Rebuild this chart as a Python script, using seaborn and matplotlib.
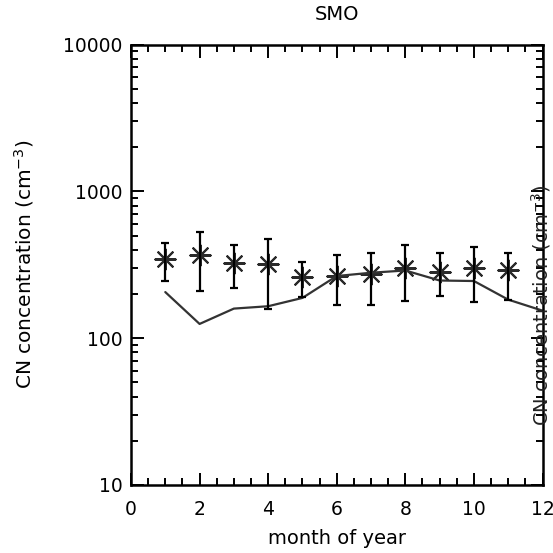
import numpy as np
import pandas as pd
import matplotlib
matplotlib.use("Agg")
import matplotlib.pyplot as plt
import seaborn as sns
from matplotlib.ticker import FixedLocator, MultipleLocator, LogLocator, NullFormatter

# Observed monthly mean CN concentration at SMO with spread (cm^-3)
obs_month = [1, 2, 3, 4, 5, 6, 7, 8, 9, 10, 11]
obs_mean = [344, 368, 326, 318, 262, 265, 274, 302, 283, 299, 289]
obs_high = [447, 530, 431, 472, 331, 367, 378, 431, 378, 418, 382]
obs_low = [247, 209, 218, 157, 190, 169, 169, 178, 193, 176, 183]

# Modelled monthly CN concentration (cm^-3)
model_month = [1, 2, 3, 4, 5, 6, 7, 8, 9, 10, 11, 12]
model_value = [206, 125, 159, 165, 188, 265, 279, 289, 247, 245, 183, 154]

x_ticks = [0, 2, 4, 6, 8, 10, 12]
y_ticks = [10, 100, 1000, 10000]
y_ticklabels = ["10", "100", "1000", "10000"]

sns.set_theme(style="ticks")
plt.rcParams["font.family"] = ["DejaVu Sans"]

fig = plt.figure(figsize=(5.53, 5.53), dpi=100)
ax = fig.add_axes([131 / 553, 1 - 485 / 553, (542.5 - 131) / 553, (485 - 44.5) / 553])

obs = pd.DataFrame({"month": obs_month, "cn": obs_mean,
                    "lo": obs_low, "hi": obs_high})
model = pd.DataFrame({"month": model_month, "cn": model_value})

sns.lineplot(data=model, x="month", y="cn", ax=ax, color="#333333",
             linewidth=1.6, legend=False)

yerr = np.array([obs["cn"] - obs["lo"], obs["hi"] - obs["cn"]])
ax.errorbar(obs["month"], obs["cn"], yerr=yerr, fmt="none", ecolor="black",
            elinewidth=1.6, capsize=3.2, capthick=1.6)
sns.scatterplot(data=obs, x="month", y="cn", ax=ax, marker=(8, 2, 0),
                s=210, color="#2a2a2a", linewidth=1.5, edgecolor="#2a2a2a",
                legend=False)

ax.set_yscale("log")
ax.set_xlim(0, 12)
ax.set_ylim(10, 10000)

ax.xaxis.set_major_locator(FixedLocator(x_ticks))
ax.xaxis.set_minor_locator(MultipleLocator(0.5))
ax.yaxis.set_major_locator(FixedLocator(y_ticks))
ax.set_yticklabels(y_ticklabels)
ax.yaxis.set_minor_locator(LogLocator(base=10, subs=np.arange(2, 10)))
ax.yaxis.set_minor_formatter(NullFormatter())

ax.tick_params(which="both", direction="in", top=True, right=True,
               color="black", width=1.4, labelsize=13.5, labelcolor="black")
ax.tick_params(which="major", length=9)
ax.tick_params(axis="x", which="major", pad=11)
ax.tick_params(axis="y", which="major", pad=6)
ax.tick_params(which="minor", length=5)

for sp in ax.spines.values():
    sp.set_visible(True)
    sp.set_linewidth(1.8)
    sp.set_color("black")

ax.set_xlabel("month of year", fontsize=14, color="black", labelpad=7)
ax.set_ylabel("CN concentration (cm$^{-3}$)", fontsize=14.5, color="black",
              labelpad=20)
ax.set_title("SMO", fontsize=14, color="black", pad=18)

# Secondary label drawn along the right axis
fig.text(541 / 553, 1 - 305 / 553, "CN concentration (cm$^{-3}$)",
         rotation=90, ha="center", va="center", fontsize=14, color="#222222")

fig.savefig("out.png", dpi=100, facecolor="white")
